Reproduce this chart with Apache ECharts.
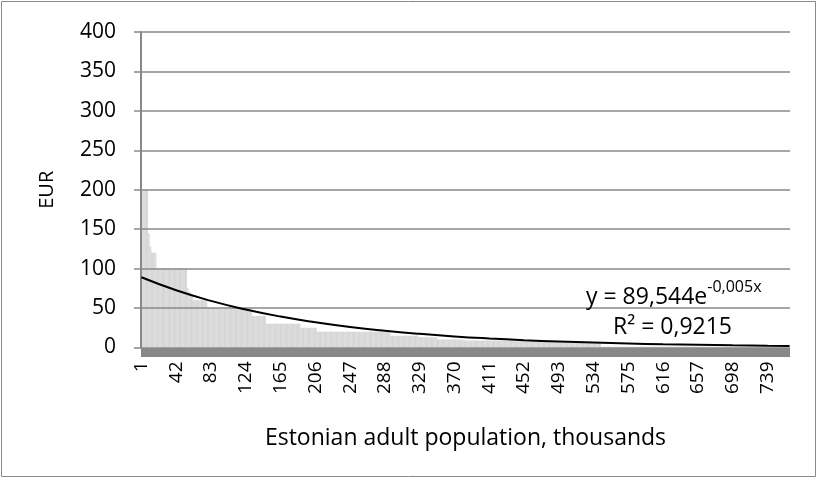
<!DOCTYPE html>
<html>
<head>
<meta charset="utf-8">
<script src="https://cdn.jsdelivr.net/npm/echarts@6/dist/echarts.min.js"></script>
<style>
html,body{margin:0;padding:0;background:#fff;}
#chart{width:818px;height:479px;}
</style>
</head>
<body>
<div id="chart"></div>
<script>
// number of categories (thousands of adults)
const categoryCount = 765;
// bar values as runs: value of each run and the last category of that run
const runValues = [380, 200, 145, 128, 120, 100, 75, 70, 65, 60, 50, 40, 30, 25, 20, 15, 13, 10, 9, 8, 7, 1];
const runEnds   = [1,   8,   10,  12,  18,  54,  56, 59, 61, 78, 131, 147, 188, 207, 294, 327, 349, 380, 440, 480, 542, 765];
// exponential trendline, read at category ticks
const trendCats = [1, 42, 83, 124, 165, 206, 247, 288, 329, 370, 411, 452, 493, 534, 575, 616, 657, 698, 739, 765];
const trendVals = [89.1, 72.6, 59.1, 48.2, 39.2, 32.0, 26.0, 21.2, 17.3, 14.1, 11.5, 9.3, 7.6, 6.2, 5.1, 4.1, 3.4, 2.7, 2.2, 1.9];
const yTicks = [0, 50, 100, 150, 200, 250, 300, 350, 400];
const equationText = 'y = 89,544e';
const equationExp = '-0,005x';
const r2Text = 'R² = 0,9215';

const categories = [];
for (let i = 1; i <= categoryCount; i++) categories.push(String(i));
const barData = [];
let r = 0;
for (let i = 1; i <= categoryCount; i++) {
  while (i > runEnds[r]) r++;
  barData.push(runValues[r]);
}
const trendData = trendCats.map((c, i) => [c - 1, trendVals[i]]);

const FONT = '"Open Sans", Lato, sans-serif';
const chart = echarts.init(document.getElementById('chart'));
chart.setOption({
  animation: false,
  backgroundColor: '#fff',
  grid: { left: 141, right: 28, top: 32, bottom: 131.5, containLabel: false },
  xAxis: {
    type: 'category',
    data: categories,
    offset: 5,
    z: 1,
    axisLine: { onZero: false, lineStyle: { color: '#888888', width: 9, cap: 'butt' } },
    axisTick: { show: false },
    axisLabel: { interval: 40, rotate: 90, margin: 9, fontFamily: FONT, fontSize: 19, color: '#000' },
    name: 'Estonian adult population, thousands',
    nameLocation: 'middle',
    nameGap: 74,
    nameTextStyle: { fontFamily: FONT, fontSize: 23, color: '#000' }
  },
  yAxis: {
    type: 'value',
    min: yTicks[0],
    max: yTicks[yTicks.length - 1],
    interval: yTicks[1] - yTicks[0],
    z: 3,
    axisLine: { show: true, lineStyle: { color: '#888888', width: 2 } },
    axisTick: { show: true, length: 7, lineStyle: { color: '#888888', width: 1.5 } },
    axisLabel: { margin: 25, fontFamily: FONT, fontSize: 21, color: '#000' },
    splitLine: { lineStyle: { color: '#888888', width: 1.6 } },
    name: 'EUR',
    nameLocation: 'middle',
    nameGap: 84,
    nameTextStyle: { fontFamily: FONT, fontSize: 20, color: '#000' }
  },
  series: [
    {
      type: 'bar',
      data: barData,
      barCategoryGap: '8%',
      itemStyle: { color: '#d5d5d5' },
      z: 2
    },
    {
      type: 'line',
      data: trendData,
      smooth: true,
      showSymbol: false,
      lineStyle: { color: '#000', width: 2 },
      z: 4
    }
  ],
  graphic: [
    { type: 'rect', shape: { x: 1.5, y: 1.5, width: 814, height: 475 }, style: { fill: 'none', stroke: '#8a8a8a', lineWidth: 1 }, silent: true },
    { type: 'text', x: 586, y: 279, z: 10, style: {
        text: '{b|' + equationText + '}{s|' + equationExp + '}',
        fill: '#000',
        rich: {
          b: { fontFamily: FONT, fontSize: 23, lineHeight: 30, verticalAlign: 'bottom' },
          s: { fontFamily: FONT, fontSize: 16, lineHeight: 30, verticalAlign: 'top' }
        }
      } },
    { type: 'text', x: 613, y: 316, z: 10, style: { text: r2Text, font: '23px ' + FONT, fill: '#000', textVerticalAlign: 'top' } }
  ]
});
</script>
</body>
</html>
